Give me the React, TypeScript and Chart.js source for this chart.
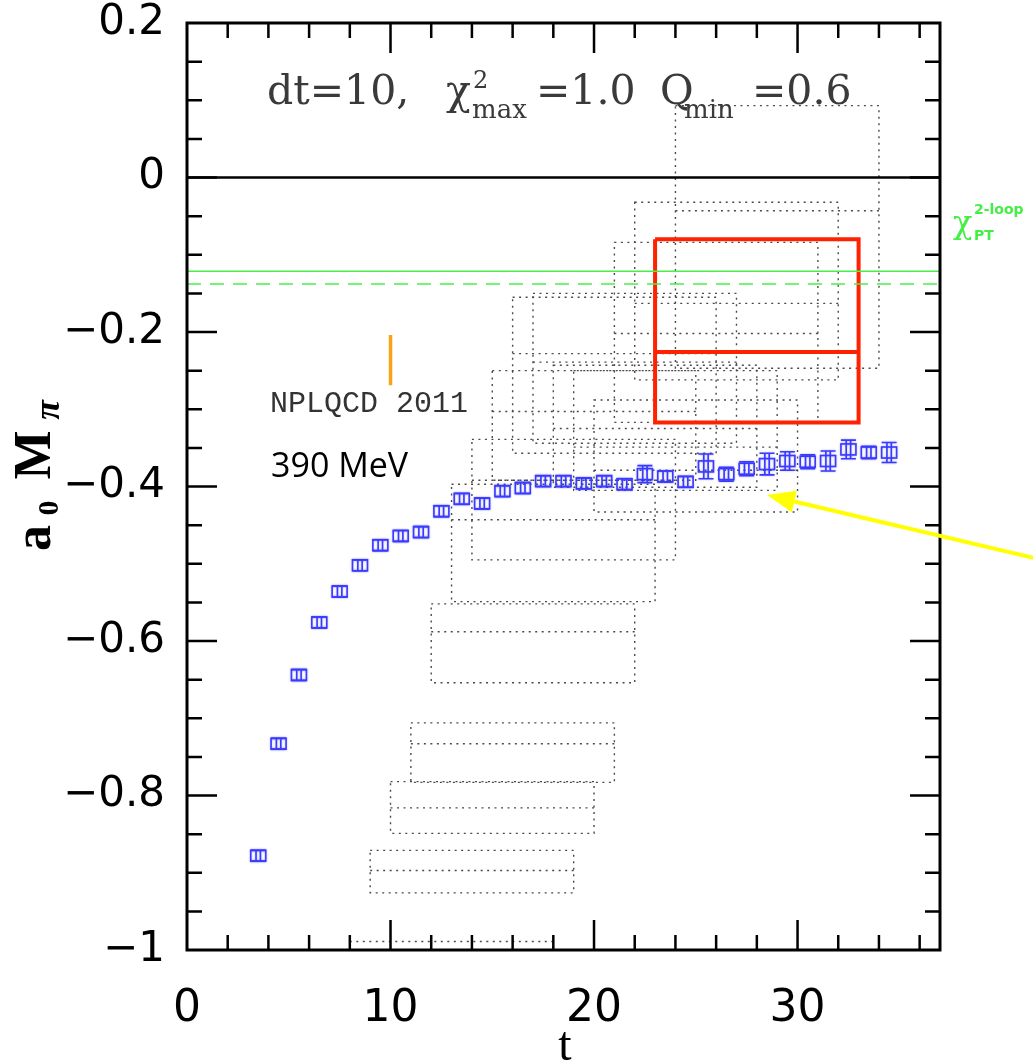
import React, { useEffect, useRef } from "react";
import { Chart, registerables } from "chart.js";

Chart.register(...registerables);

// Effective scattering length a0*M_pi versus time slice t
const tValues = [
  3.5, 4.5, 5.5, 6.5, 7.5, 8.5, 9.5, 10.5, 11.5, 12.5, 13.5, 14.5, 15.5, 16.5, 17.5, 18.5,
  19.5, 20.5, 21.5, 22.5, 23.5, 24.5, 25.5, 26.5, 27.5, 28.5, 29.5, 30.5, 31.5, 32.5, 33.5, 34.5,
];
const aMpi = [
  -0.878, -0.733, -0.644, -0.576, -0.536, -0.502, -0.476, -0.464, -0.459, -0.432, -0.416, -0.422,
  -0.406, -0.402, -0.393, -0.393, -0.396, -0.393, -0.397, -0.384, -0.387, -0.394, -0.374, -0.384,
  -0.377, -0.371, -0.367, -0.368, -0.367, -0.352, -0.356, -0.356,
];
const aMpiErr = [
  0.007, 0.007, 0.007, 0.007, 0.007, 0.007, 0.007, 0.007, 0.007, 0.007, 0.007, 0.007,
  0.007, 0.007, 0.007, 0.007, 0.007, 0.007, 0.007, 0.011, 0.007, 0.007, 0.016, 0.009,
  0.009, 0.014, 0.012, 0.009, 0.013, 0.012, 0.008, 0.013,
];

// Plateau fits over windows [tmin, tmin + dt]: upper edge, central value, lower edge
const fitDt = 10;
const fitTmin = [8, 9, 10, 11, 12, 13, 14, 15, 16, 17, 18, 19, 20, 21, 22, 24];
const fitUpper = [
  -0.989, -0.871, -0.782, -0.706, -0.552, -0.397, -0.339, -0.25, -0.155, -0.15, -0.243, -0.25,
  -0.288, -0.084, -0.032, 0.093,
];
const fitCentral = [
  -1.02, -0.897, -0.816, -0.733, -0.588, -0.443, -0.392, -0.303, -0.228, -0.239, -0.325, -0.349,
  -0.379, -0.202, -0.163, -0.043,
];
const fitLower = [
  -1.06, -0.926, -0.849, -0.783, -0.654, -0.549, -0.495, -0.392, -0.357, -0.344, -0.401, -0.405,
  -0.433, -0.317, -0.262, -0.247,
];

// Selected fit (tmin = 23)
const bestRange = [23, 33];
const bestBand = [-0.08, -0.226, -0.317];

// Chiral perturbation theory (2-loop): central and lower line
const chiPT2loop = [-0.1215, -0.138];

// NPLQCD 2011 result at t = 10
const nplT = 10;
const nplRange = [-0.204, -0.269];

// Pointer arrow (tail, tip) in data units
const arrowTail = [41.6, -0.4925];
const arrowTip = [28.5, -0.411];

const xMin = 0;
const xMax = 37;
const yMin = -1;
const yMax = 0.2;
const xMajorTicks = [0, 10, 20, 30];
const xTickLabels = ["0", "10", "20", "30"];
const yMajorTicks = [-1, -0.8, -0.6, -0.4, -0.2, 0, 0.2];
const yTickLabels = ["\u22121", "\u22120.8", "\u22120.6", "\u22120.4", "\u22120.2", "0", "0.2"];

const BLUE = "#3a3aff";

const figurePlugin = {
  id: "figure",
  beforeDatasetsDraw(chart: any) {
    const { ctx, chartArea: a, scales } = chart;
    const xs = scales.x;
    const ys = scales.y;
    ctx.save();
    ctx.beginPath();
    ctx.rect(a.left, a.top, a.right - a.left, a.bottom - a.top);
    ctx.clip();
    ctx.strokeStyle = "#4a4a4a";
    ctx.lineWidth = 1.4;
    ctx.setLineDash([2, 4.5]);
    fitTmin.forEach((t0, i) => {
      const x0 = xs.getPixelForValue(t0);
      const x1 = xs.getPixelForValue(t0 + fitDt);
      const yU = ys.getPixelForValue(fitUpper[i]);
      const yC = ys.getPixelForValue(fitCentral[i]);
      const yL = ys.getPixelForValue(fitLower[i]);
      ctx.strokeRect(x0, yU, x1 - x0, yL - yU);
      ctx.beginPath();
      ctx.moveTo(x0, yC);
      ctx.lineTo(x1, yC);
      ctx.stroke();
    });
    ctx.restore();
  },
  afterDatasetsDraw(chart: any) {
    const { ctx, chartArea: a, scales } = chart;
    const xs = scales.x;
    const ys = scales.y;

    // data glyphs: open box symbol with error bar
    const meta = chart.getDatasetMeta(0);
    ctx.save();
    ctx.strokeStyle = BLUE;
    ctx.lineWidth = 1.6;
    ctx.shadowColor = "rgba(60,60,255,0.45)";
    ctx.shadowBlur = 2;
    meta.data.forEach((pt: any, i: number) => {
      const x = pt.x;
      const y = pt.y;
      const yTop = ys.getPixelForValue(aMpi[i] + aMpiErr[i]);
      const yBot = ys.getPixelForValue(aMpi[i] - aMpiErr[i]);
      ctx.strokeRect(x - 7.5, y - 5.5, 15, 11);
      ctx.beginPath();
      ctx.moveTo(x - 2.2, yTop);
      ctx.lineTo(x - 2.2, yBot);
      ctx.moveTo(x + 2.2, yTop);
      ctx.lineTo(x + 2.2, yBot);
      ctx.moveTo(x - 7.5, yTop);
      ctx.lineTo(x + 7.5, yTop);
      ctx.moveTo(x - 7.5, yBot);
      ctx.lineTo(x + 7.5, yBot);
      ctx.stroke();
    });
    ctx.restore();

    // frame and inward ticks on all sides
    ctx.save();
    ctx.strokeStyle = "#000";
    ctx.lineWidth = 3;
    ctx.strokeRect(a.left, a.top, a.right - a.left, a.bottom - a.top);
    ctx.lineWidth = 2.5;
    ctx.beginPath();
    for (let t = 2; t < xMax; t += 2) {
      const px = xs.getPixelForValue(t);
      const len = t % 10 === 0 ? 30 : 15;
      ctx.moveTo(px, a.bottom);
      ctx.lineTo(px, a.bottom - len);
      ctx.moveTo(px, a.top);
      ctx.lineTo(px, a.top + len);
    }
    for (let k = 1; k < 24; k++) {
      const v = yMin + k * 0.05;
      const py = ys.getPixelForValue(v);
      const len = k % 4 === 0 ? 30 : 15;
      ctx.moveTo(a.left, py);
      ctx.lineTo(a.left + len, py);
      ctx.moveTo(a.right, py);
      ctx.lineTo(a.right - len, py);
    }
    ctx.stroke();
    ctx.restore();
  },
  afterDraw(chart: any) {
    const { ctx, scales } = chart;
    const xs = scales.x;
    const ys = scales.y;
    ctx.save();

    // header
    ctx.fillStyle = "#3a3a3a";
    ctx.textBaseline = "alphabetic";
    ctx.textAlign = "left";
    const big = '41px "DejaVu Serif"';
    ctx.font = big;
    ctx.fillText("dt=10,", 267, 104);
    ctx.fillText("\u03c7", 446, 104);
    ctx.font = '24px "DejaVu Serif"';
    ctx.fillText("2", 473, 88);
    ctx.font = '26px "DejaVu Serif"';
    ctx.fillText("max", 472, 118);
    ctx.font = big;
    ctx.fillText("=1.0", 536, 104);
    ctx.fillText("Q", 660, 104);
    ctx.font = '26px "DejaVu Serif"';
    ctx.fillText("min", 684, 118);
    ctx.font = big;
    ctx.fillText("=0.6", 752, 104);

    // annotations
    ctx.fillStyle = "#333";
    ctx.font = '30px "Liberation Mono"';
    ctx.fillText("NPLQCD 2011", 270, 412);
    ctx.fillStyle = "#000";
    ctx.font = '34px "Open Sans"';
    ctx.fillText("390 MeV", 271, 477);

    // chiPT label
    ctx.fillStyle = "#44ee44";
    ctx.font = '32px "DejaVu Serif"';
    ctx.fillText("\u03c7", 953, 233);
    ctx.font = 'bold 14px "DejaVu Sans"';
    ctx.fillText("2-loop", 974, 214);
    ctx.fillText("PT", 974, 240);

    // axis titles
    ctx.fillStyle = "#000";
    ctx.font = '48px "Liberation Serif"';
    ctx.textAlign = "center";
    ctx.fillText("t", 565, 1060);

    ctx.save();
    ctx.translate(50, 0);
    ctx.rotate(-Math.PI / 2);
    ctx.textAlign = "center";
    ctx.font = 'bold 52px "Liberation Serif"';
    ctx.fillText("a", -538, 0);
    ctx.font = 'bold 30px "Liberation Serif"';
    ctx.fillText("0", -508, 8);
    ctx.font = 'bold 52px "Liberation Serif"';
    ctx.fillText("M", -455, 0);
    ctx.font = 'bold italic 36px "Liberation Serif"';
    ctx.fillText("\u03c0", -410, 9);
    ctx.restore();

    // arrow
    const x0 = xs.getPixelForValue(arrowTail[0]);
    const y0 = ys.getPixelForValue(arrowTail[1]);
    const x1 = xs.getPixelForValue(arrowTip[0]);
    const y1 = ys.getPixelForValue(arrowTip[1]);
    const ang = Math.atan2(y1 - y0, x1 - x0);
    const headLen = 28;
    const headHalf = 11;
    const bx = x1 - headLen * Math.cos(ang);
    const by = y1 - headLen * Math.sin(ang);
    ctx.strokeStyle = "#ffff00";
    ctx.fillStyle = "#ffff00";
    ctx.lineWidth = 4;
    ctx.beginPath();
    ctx.moveTo(x0, y0);
    ctx.lineTo(bx, by);
    ctx.stroke();
    ctx.beginPath();
    ctx.moveTo(x1, y1);
    ctx.lineTo(bx + headHalf * Math.sin(ang), by - headHalf * Math.cos(ang));
    ctx.lineTo(bx - headHalf * Math.sin(ang), by + headHalf * Math.cos(ang));
    ctx.closePath();
    ctx.fill();

    ctx.restore();
  },
};

export default function App() {
  const ref = useRef<HTMLCanvasElement>(null);

  useEffect(() => {
    document.body.style.margin = "0";
    const canvas = ref.current;
    if (!canvas) return;

    const hLine = (v: number) => [
      { x: xMin, y: v },
      { x: xMax, y: v },
    ];

    const chart = new Chart(canvas, {
      type: "line",
      data: {
        datasets: [
          {
            label: "a0 Mpi",
            data: tValues.map((t, i) => ({ x: t, y: aMpi[i] })),
            showLine: false,
            pointRadius: 0,
            borderColor: BLUE,
          },
          {
            label: "zero",
            data: hLine(0),
            borderColor: "#000",
            borderWidth: 2.5,
            pointRadius: 0,
          },
          {
            label: "chiPT central",
            data: hLine(chiPT2loop[0]),
            borderColor: "#4aee4a",
            borderWidth: 1.5,
            pointRadius: 0,
          },
          {
            label: "chiPT lower",
            data: hLine(chiPT2loop[1]),
            borderColor: "#4aee4a",
            borderWidth: 1.5,
            borderDash: [14, 9],
            pointRadius: 0,
          },
          {
            label: "NPLQCD 2011",
            data: [
              { x: nplT, y: nplRange[0] },
              { x: nplT, y: nplRange[1] },
            ],
            borderColor: "#f7a21b",
            borderWidth: 3.5,
            pointRadius: 0,
          },
          {
            label: "selected fit",
            data: [
              { x: bestRange[0], y: bestBand[0] },
              { x: bestRange[1], y: bestBand[0] },
              { x: bestRange[1], y: bestBand[2] },
              { x: bestRange[0], y: bestBand[2] },
              { x: bestRange[0], y: bestBand[0] },
            ],
            borderColor: "#ff2200",
            borderWidth: 4,
            borderJoinStyle: "miter",
            pointRadius: 0,
          },
          {
            label: "selected fit central",
            data: [
              { x: bestRange[0], y: bestBand[1] },
              { x: bestRange[1], y: bestBand[1] },
            ],
            borderColor: "#ff2200",
            borderWidth: 4,
            pointRadius: 0,
          },
        ],
      },
      options: {
        animation: false,
        responsive: false,
        layout: { padding: { left: 0, right: 93, top: 23, bottom: 0 } },
        plugins: {
          legend: { display: false },
          tooltip: { enabled: false },
        },
        scales: {
          x: {
            type: "linear",
            min: xMin,
            max: xMax,
            afterBuildTicks: (s: any) => {
              s.ticks = xMajorTicks.map((v) => ({ value: v }));
            },
            afterFit: (s: any) => {
              s.height = 113;
              s.paddingLeft = 0;
              s.paddingRight = 0;
            },
            grid: { display: false, drawTicks: false },
            border: { display: false },
            ticks: {
              autoSkip: false,
              maxRotation: 0,
              padding: 33,
              color: "#000",
              font: { family: "DejaVu Sans", size: 44 },
              callback: (_v: any, i: number) => xTickLabels[i],
            },
          },
          y: {
            type: "linear",
            min: yMin,
            max: yMax,
            afterBuildTicks: (s: any) => {
              s.ticks = yMajorTicks.map((v) => ({ value: v }));
            },
            afterFit: (s: any) => {
              s.width = 187;
              s.paddingTop = 0;
              s.paddingBottom = 0;
            },
            grid: { display: false, drawTicks: false },
            border: { display: false },
            ticks: {
              autoSkip: false,
              padding: 22,
              color: "#000",
              font: { family: "DejaVu Sans", size: 42 },
              callback: (_v: any, i: number) => yTickLabels[i],
            },
          },
        },
      },
      plugins: [figurePlugin],
    } as any);

    return () => chart.destroy();
  }, []);

  return <canvas ref={ref} width={1033} height={1063} style={{ display: "block" }} />;
}
